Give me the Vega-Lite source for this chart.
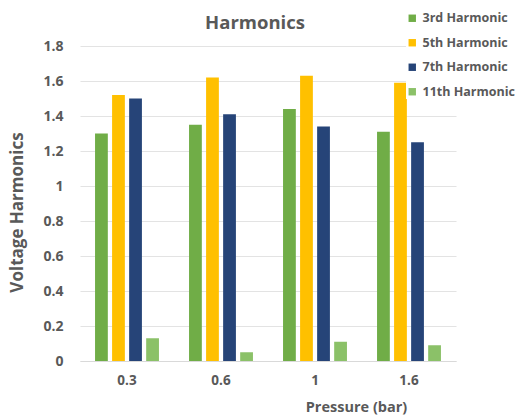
{
  "$schema": "https://vega.github.io/schema/vega-lite/v6.json",
  "width": 376,
  "height": 315,
  "autosize": {"type": "none"},
  "padding": {"left": 80, "top": 46, "right": 67, "bottom": 58},
  "background": "white",
  "title": {
    "text": "Harmonics",
    "anchor": "middle",
    "frame": "group",
    "dx": -13,
    "dy": 20,
    "offset": 0,
    "font": "Open Sans",
    "fontSize": 18.5,
    "fontWeight": "bold",
    "color": "#595959"
  },
  "data": {
    "values": [
      {"pressure": "0.3", "harmonic": "3rd Harmonic", "voltage": 1.30},
      {"pressure": "0.3", "harmonic": "5th Harmonic", "voltage": 1.52},
      {"pressure": "0.3", "harmonic": "7th Harmonic", "voltage": 1.50},
      {"pressure": "0.3", "harmonic": "11th Harmonic", "voltage": 0.13},
      {"pressure": "0.6", "harmonic": "3rd Harmonic", "voltage": 1.35},
      {"pressure": "0.6", "harmonic": "5th Harmonic", "voltage": 1.62},
      {"pressure": "0.6", "harmonic": "7th Harmonic", "voltage": 1.41},
      {"pressure": "0.6", "harmonic": "11th Harmonic", "voltage": 0.05},
      {"pressure": "1", "harmonic": "3rd Harmonic", "voltage": 1.44},
      {"pressure": "1", "harmonic": "5th Harmonic", "voltage": 1.63},
      {"pressure": "1", "harmonic": "7th Harmonic", "voltage": 1.34},
      {"pressure": "1", "harmonic": "11th Harmonic", "voltage": 0.11},
      {"pressure": "1.6", "harmonic": "3rd Harmonic", "voltage": 1.31},
      {"pressure": "1.6", "harmonic": "5th Harmonic", "voltage": 1.59},
      {"pressure": "1.6", "harmonic": "7th Harmonic", "voltage": 1.25},
      {"pressure": "1.6", "harmonic": "11th Harmonic", "voltage": 0.09}
    ]
  },
  "mark": {"type": "bar"},
  "encoding": {
    "x": {
      "field": "pressure",
      "type": "ordinal",
      "sort": ["0.3", "0.6", "1", "1.6"],
      "scale": {"paddingInner": 0.32, "paddingOuter": 0.16},
      "axis": {
        "title": "Pressure (bar)",
        "titleX": 276,
        "titleY": 39,
        "titleFont": "Open Sans",
        "titleFontSize": 14.5,
        "titleFontWeight": "bold",
        "titleColor": "#595959",
        "labelAngle": 0,
        "labelFont": "Open Sans",
        "labelFontSize": 13.5,
        "labelFontWeight": "bold",
        "labelColor": "#595959",
        "labelPadding": 12,
        "ticks": false,
        "domainColor": "#d9d9d9",
        "domainWidth": 1.2,
        "grid": false
      }
    },
    "xOffset": {
      "field": "harmonic",
      "type": "nominal",
      "sort": ["3rd Harmonic", "5th Harmonic", "7th Harmonic", "11th Harmonic"],
      "scale": {"paddingInner": 0.25, "paddingOuter": 0}
    },
    "y": {
      "field": "voltage",
      "type": "quantitative",
      "scale": {"domain": [0, 1.8]},
      "axis": {
        "title": "Voltage Harmonics",
        "titleX": -63,
        "titleY": 166,
        "titleBaseline": "middle",
        "titleFont": "Open Sans",
        "titleFontSize": 17,
        "titleFontWeight": "bold",
        "titleColor": "#595959",
        "values": [0, 0.2, 0.4, 0.6, 0.8, 1, 1.2, 1.4, 1.6, 1.8],
        "format": "~g",
        "labelFont": "Open Sans",
        "labelFontSize": 14,
        "labelFontWeight": "bold",
        "labelColor": "#595959",
        "labelPadding": 17,
        "ticks": false,
        "domain": false,
        "gridColor": "#e3e3e3",
        "gridWidth": 1.2
      }
    },
    "color": {
      "field": "harmonic",
      "type": "nominal",
      "sort": ["3rd Harmonic", "5th Harmonic", "7th Harmonic", "11th Harmonic"],
      "scale": {
        "domain": ["3rd Harmonic", "5th Harmonic", "7th Harmonic", "11th Harmonic"],
        "range": ["#70ad47", "#ffc000", "#264478", "#8bc168"]
      },
      "legend": {
        "title": null,
        "orient": "none",
        "legendX": 326,
        "legendY": -34,
        "padding": 0,
        "fillColor": "white",
        "symbolType": "square",
        "symbolSize": 55,
        "symbolStrokeWidth": 0,
        "labelFont": "Open Sans",
        "labelFontSize": 12.5,
        "labelFontWeight": "bold",
        "labelColor": "#595959",
        "labelOffset": 4,
        "rowPadding": 11.5
      }
    }
  },
  "config": {"view": {"stroke": null}}
}
